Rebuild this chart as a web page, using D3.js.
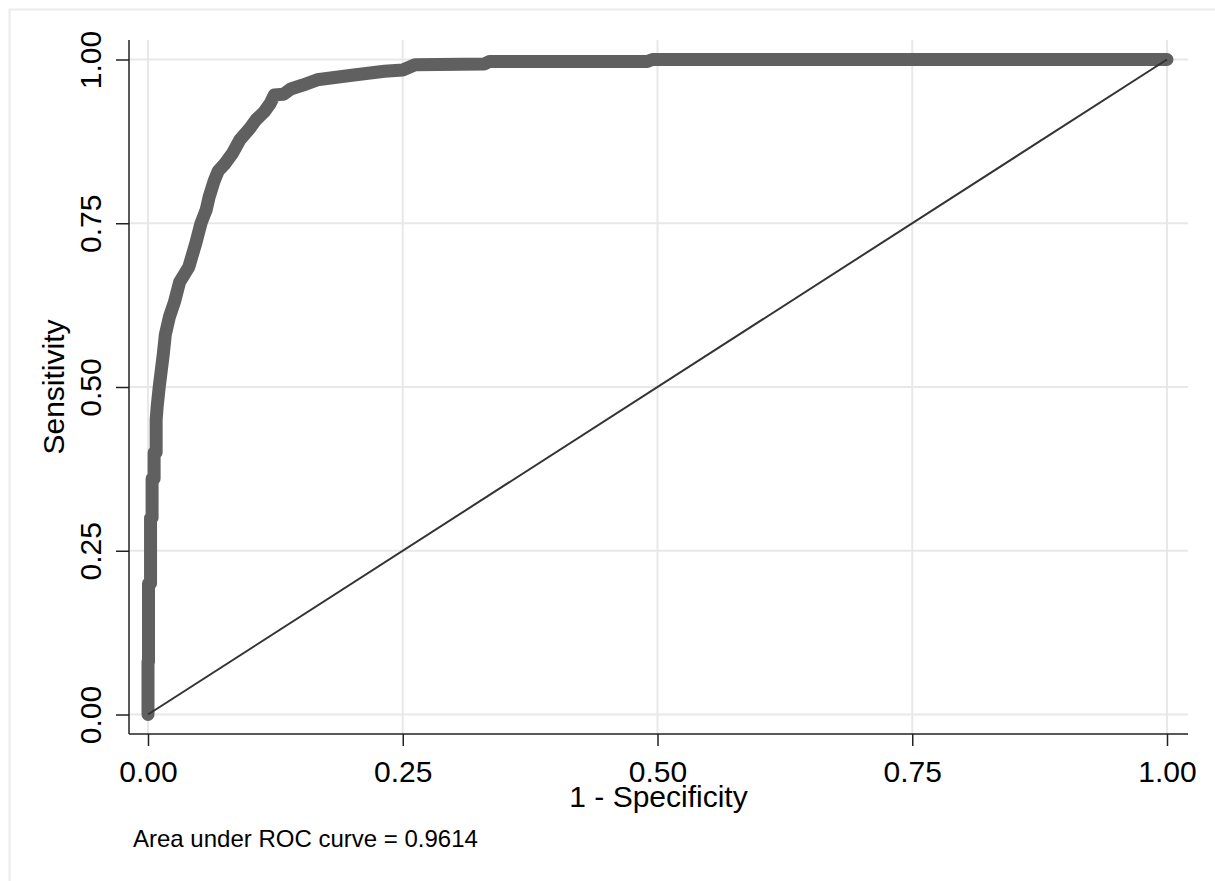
<!DOCTYPE html>
<html>
<head>
<meta charset="utf-8">
<script src="https://cdn.jsdelivr.net/npm/d3@7"></script>
<style>
  body { margin: 0; background: #fff; }
  svg { display: block; font-family: "Liberation Sans", Arial, sans-serif; }
</style>
</head>
<body>
<svg id="roc" width="1215" height="881"></svg>
<script>
// ROC points: 1 - specificity, sensitivity
const fpr = [0, 0, 0.0005, 0.0005, 0.0025, 0.0025, 0.004, 0.004, 0.006, 0.006, 0.008, 0.008,
    0.009, 0.011, 0.015, 0.017, 0.021, 0.026, 0.031, 0.040, 0.047, 0.052, 0.057, 0.060,
    0.065, 0.069, 0.075, 0.083, 0.090, 0.100, 0.106, 0.114, 0.120, 0.124, 0.133, 0.140,
    0.152, 0.166, 0.200, 0.232, 0.250, 0.262, 0.330, 0.335, 0.490, 0.495, 1];
const tpr = [0, 0.08, 0.08, 0.20, 0.20, 0.30, 0.30, 0.36, 0.36, 0.40, 0.40, 0.45,
    0.47, 0.50, 0.55, 0.58, 0.607, 0.63, 0.66, 0.683, 0.72, 0.75, 0.77, 0.79,
    0.815, 0.83, 0.84, 0.857, 0.877, 0.895, 0.908, 0.92, 0.933, 0.946, 0.947, 0.955,
    0.961, 0.969, 0.976, 0.982, 0.984, 0.992, 0.993, 0.997, 0.997, 1, 1];
const refLine = [0, 1];
const tickValues = [0, 0.25, 0.5, 0.75, 1];
const xTitle = '1 - Specificity';
const yTitle = 'Sensitivity';
const note = 'Area under ROC curve = 0.9614';

const svg = d3.select('#roc');
const plot = { left: 129, right: 1188, top: 40, bottom: 734 };

const xScale = d3.scaleLinear().domain([0, 1]).range([148, 1167]);
const yScale = d3.scaleLinear().domain([0, 1]).range([714.5, 59.5]);

// outer graph frame (only top and left edges are visible)
svg.append('path')
    .attr('d', 'M9.5,881 V9.5 H1215')
    .attr('fill', 'none')
    .attr('stroke', '#ebebeb')
    .attr('stroke-width', 2);

// grid lines
svg.append('g')
    .selectAll('line')
    .data(tickValues)
    .join('line')
    .attr('x1', plot.left)
    .attr('x2', plot.right)
    .attr('y1', d => yScale(d))
    .attr('y2', d => yScale(d))
    .attr('stroke', '#e8e8e8')
    .attr('stroke-width', 2);

svg.append('g')
    .selectAll('line')
    .data(tickValues)
    .join('line')
    .attr('x1', d => xScale(d))
    .attr('x2', d => xScale(d))
    .attr('y1', plot.top)
    .attr('y2', plot.bottom)
    .attr('stroke', '#e8e8e8')
    .attr('stroke-width', 2);

// axes
const xAxis = d3.axisBottom(xScale)
    .tickValues(tickValues)
    .tickSize(12)
    .tickFormat(d3.format('.2f'));
const yAxis = d3.axisLeft(yScale)
    .tickValues(tickValues)
    .tickSize(13)
    .tickFormat(d3.format('.2f'));

const gx = svg.append('g')
    .attr('transform', `translate(0,${plot.bottom})`)
    .call(xAxis);
const gy = svg.append('g')
    .attr('transform', `translate(${plot.left},0)`)
    .call(yAxis);

[gx, gy].forEach(g => {
    g.select('.domain').remove();
    g.selectAll('.tick line').attr('stroke', '#222').attr('stroke-width', 1.5);
    g.selectAll('.tick text')
        .attr('fill', '#000')
        .style('font-size', '30px')
        .attr('dy', 0);
});

gx.selectAll('.tick text')
    .attr('y', 48)
    .attr('text-anchor', 'middle');

gy.selectAll('.tick text')
    .attr('transform', 'rotate(-90)')
    .attr('x', 0)
    .attr('y', -28)
    .attr('text-anchor', 'middle');

// axis lines
svg.append('line')
    .attr('x1', plot.left).attr('x2', plot.right)
    .attr('y1', plot.bottom).attr('y2', plot.bottom)
    .attr('stroke', '#222').attr('stroke-width', 1.5);
svg.append('line')
    .attr('x1', plot.left).attr('x2', plot.left)
    .attr('y1', plot.top).attr('y2', plot.bottom)
    .attr('stroke', '#222').attr('stroke-width', 1.5);

// ROC curve
const rocData = fpr.map((f, i) => [f, tpr[i]]);
const line = d3.line()
    .x(d => xScale(d[0]))
    .y(d => yScale(d[1]));

svg.append('path')
    .datum(rocData)
    .attr('d', line)
    .attr('fill', 'none')
    .attr('stroke', '#606060')
    .attr('stroke-width', 13)
    .attr('stroke-linejoin', 'round')
    .attr('stroke-linecap', 'round');

// reference diagonal
svg.append('path')
    .datum(refLine.map(v => [v, v]))
    .attr('d', line)
    .attr('fill', 'none')
    .attr('stroke', '#333')
    .attr('stroke-width', 2);

// titles
svg.append('text')
    .attr('x', (plot.left + plot.right) / 2)
    .attr('y', 807)
    .attr('text-anchor', 'middle')
    .style('font-size', '30px')
    .text(xTitle);

svg.append('text')
    .attr('transform', `translate(64,${(plot.top + plot.bottom) / 2}) rotate(-90)`)
    .attr('text-anchor', 'middle')
    .style('font-size', '30px')
    .text(yTitle);

svg.append('text')
    .attr('x', 133)
    .attr('y', 847)
    .style('font-size', '24px')
    .text(note);
</script>
</body>
</html>
